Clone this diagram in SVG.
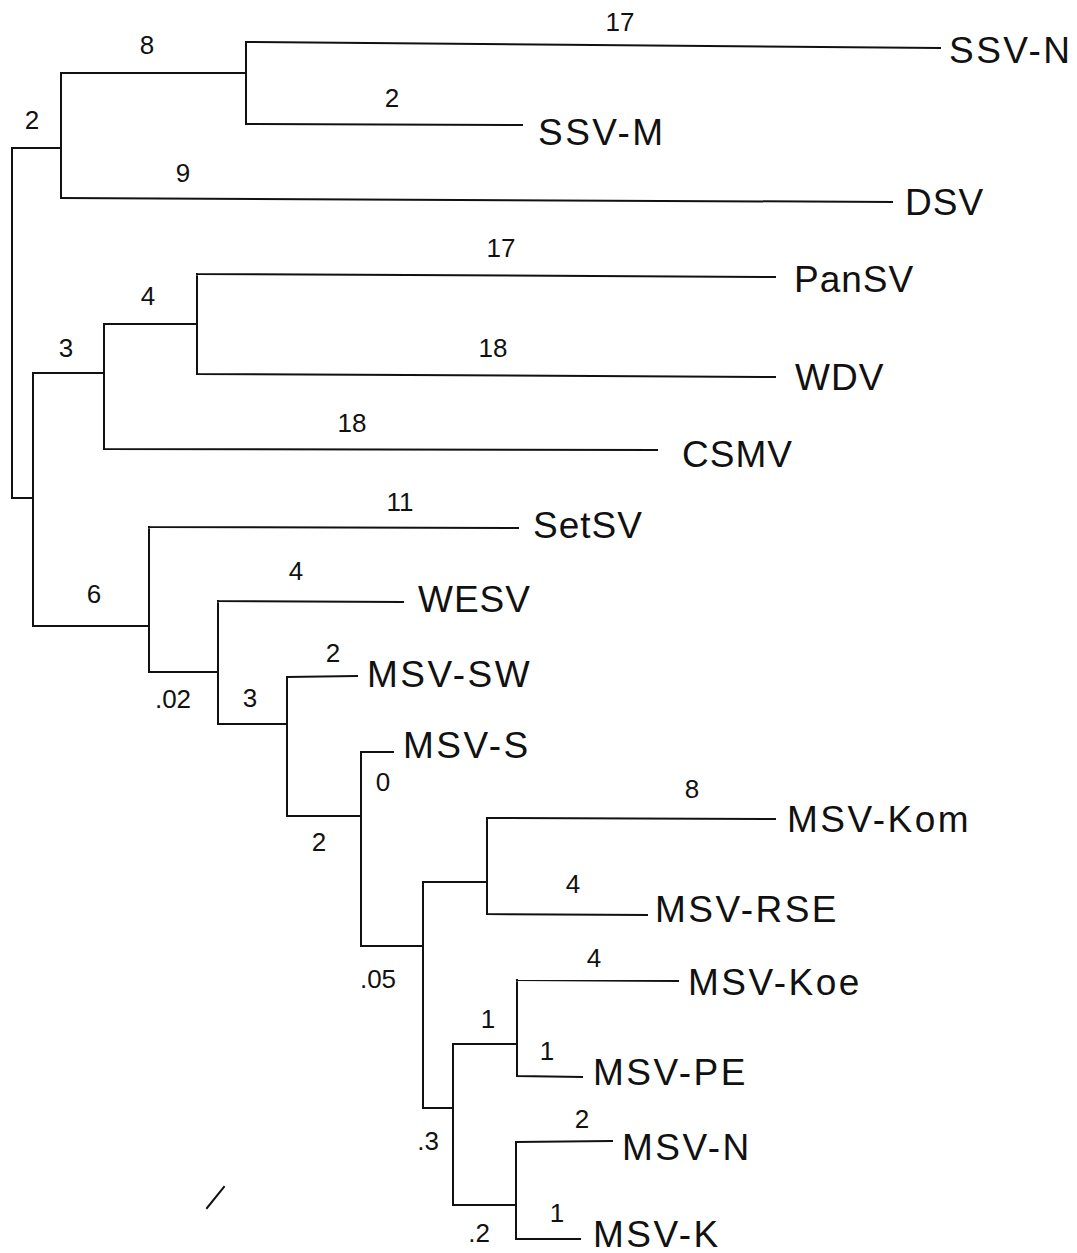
<svg xmlns="http://www.w3.org/2000/svg" width="1077" height="1253" viewBox="0 0 1077 1253">
<style>
.br{fill:none;stroke:#111;stroke-width:2;stroke-linecap:square}
.tx{font-family:"Liberation Sans",Arial,sans-serif;font-size:37px;fill:#111;letter-spacing:1px}
.hy{letter-spacing:2.5px}
.num{font-family:"Liberation Sans",Arial,sans-serif;font-size:26px;fill:#111;text-anchor:middle}
</style>
<rect width="1077" height="1253" fill="#fff"/>
<g id="connectors" class="br">
<path d="M12,148 V498 M12,148 H61 M12,498 H33"/>
<path d="M61,73 V198 M61,73 H246"/>
<path d="M246,42 V124 M246,42 L940,48 M246,124 L522,125"/>
<path d="M61,198 L892,202"/>
<path d="M33,373 V626 M33,373 H104 M33,626 H149"/>
<path d="M104,324 V449 M104,324 H197 M104,449 L657,450"/>
<path d="M197,274 V374 M197,274 L775,277 M197,374 L775,377"/>
<path d="M149,527 V672 M149,527 L518,528 M149,672 H218"/>
<path d="M218,601 V724 M218,601 L403,602 M218,724 H287"/>
<path d="M287,677 V816 M287,677 L357,676 M287,816 H361"/>
<path d="M361,752 V946 M361,752 H393 M361,946 H423"/>
<path d="M423,882 V1108 M423,882 H487 M423,1108 H453"/>
<path d="M487,818 V914 M487,818 L775,819 M487,914 L647,915"/>
<path d="M453,1044 V1205 M453,1044 H517 M453,1205 H516"/>
<path d="M517,980 V1076 M517,980 L678,981 M517,1076 L582,1077"/>
<path d="M516,1142 V1239 M516,1142 L612,1141 M516,1239 L580,1239"/>
<path d="M207,1208 L224,1187" stroke-width="2"/>
</g>
<g id="leaf-SSV-N"><text class="tx hy" x="949" y="63">SSV-N</text></g>
<g id="leaf-SSV-M"><text class="tx hy" x="538" y="145">SSV-M</text></g>
<g id="leaf-DSV"><text class="tx" x="905" y="215">DSV</text></g>
<g id="leaf-PanSV"><text class="tx" x="794" y="292">PanSV</text></g>
<g id="leaf-WDV"><text class="tx" x="795" y="390">WDV</text></g>
<g id="leaf-CSMV"><text class="tx" x="682" y="467">CSMV</text></g>
<g id="leaf-SetSV"><text class="tx" x="533" y="538">SetSV</text></g>
<g id="leaf-WESV"><text class="tx" x="418" y="612">WESV</text></g>
<g id="leaf-MSV-SW"><text class="tx hy" x="367" y="687">MSV-SW</text></g>
<g id="leaf-MSV-S"><text class="tx hy" x="403" y="758">MSV-S</text></g>
<g id="leaf-MSV-Kom"><text class="tx hy" x="787" y="832">MSV-Kom</text></g>
<g id="leaf-MSV-RSE"><text class="tx hy" x="655" y="922">MSV-RSE</text></g>
<g id="leaf-MSV-Koe"><text class="tx hy" x="688" y="995">MSV-Koe</text></g>
<g id="leaf-MSV-PE"><text class="tx hy" x="593" y="1085">MSV-PE</text></g>
<g id="leaf-MSV-N"><text class="tx hy" x="622" y="1160">MSV-N</text></g>
<g id="leaf-MSV-K"><text class="tx hy" x="593" y="1247">MSV-K</text></g>
<g id="branch-labels">
<text class="num" x="147" y="54">8</text>
<text class="num" x="620" y="31">17</text>
<text class="num" x="392" y="107">2</text>
<text class="num" x="32" y="129">2</text>
<text class="num" x="183" y="182">9</text>
<text class="num" x="501" y="257">17</text>
<text class="num" x="148" y="305">4</text>
<text class="num" x="493" y="357">18</text>
<text class="num" x="66" y="357">3</text>
<text class="num" x="352" y="432">18</text>
<text class="num" x="400" y="511">11</text>
<text class="num" x="94" y="603">6</text>
<text class="num" x="296" y="580">4</text>
<text class="num" x="333" y="662">2</text>
<text class="num" x="173" y="708">.02</text>
<text class="num" x="250" y="707">3</text>
<text class="num" x="383" y="791">0</text>
<text class="num" x="319" y="851">2</text>
<text class="num" x="692" y="798">8</text>
<text class="num" x="573" y="893">4</text>
<text class="num" x="594" y="967">4</text>
<text class="num" x="378" y="988">.05</text>
<text class="num" x="488" y="1028">1</text>
<text class="num" x="547" y="1060">1</text>
<text class="num" x="582" y="1128">2</text>
<text class="num" x="428" y="1150">.3</text>
<text class="num" x="557" y="1222">1</text>
<text class="num" x="479" y="1242">.2</text>
</g>
</svg>
